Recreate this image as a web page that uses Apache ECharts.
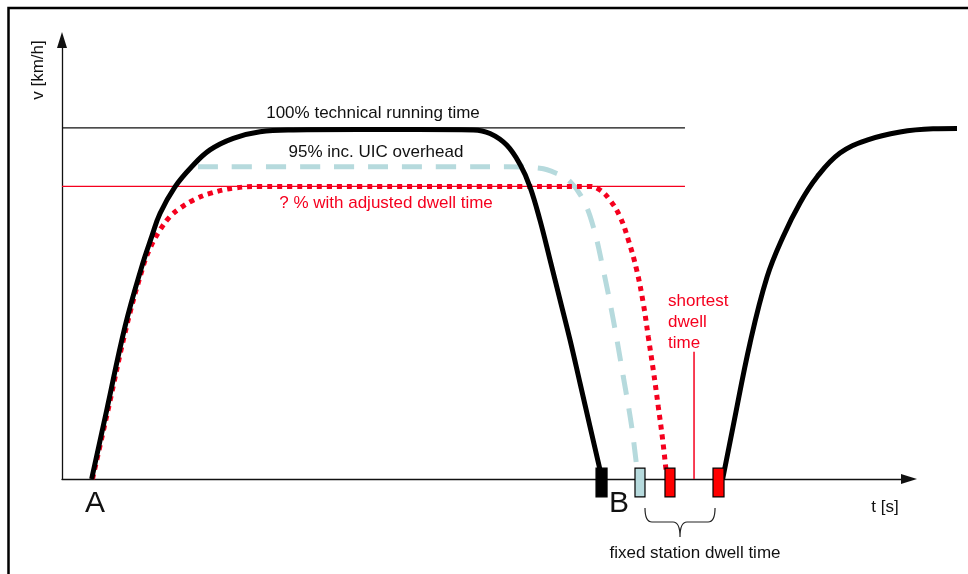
<!DOCTYPE html>
<html>
<head>
<meta charset="utf-8">
<script src="https://cdn.jsdelivr.net/npm/echarts@6/dist/echarts.min.js"></script>
<style>html,body{margin:0;padding:0;background:#fff}#c{width:968px;height:574px}</style>
</head>
<body>
<div id="c"></div>
<script>
// time [arbitrary units], speed [% of line speed]
const technicalRun = [[3.5,0],[5.28,19.6],[7.44,43.4],[9.41,60.4],[10.59,69.0],[11.57,75.6],[13.34,83.2],[15.31,88.9],[17.47,93.7],[20.22,97.0],[23.38,98.9],[27.3,99.4],[35,99.5],[42,99.5],[48.56,99.4],[50.53,98.4],[52.5,95.1],[54.07,89.6],[55.25,83.2],[56.43,73.7],[57.62,62.4],[58.8,51.0],[59.98,39.6],[61.16,27.3],[62.34,14.9],[63.52,2.6],[63.75,0]];
const uicRun = [[16.06,88.9],[30,88.9],[45,88.9],[52.5,88.9],[56.43,88.5],[58.41,87.0],[59.98,84.7],[61.55,79.4],[62.73,71.8],[63.91,59.5],[65.09,45.3],[66.27,29.1],[67.26,14.9],[67.85,3.5]];
const adjustedRun = [[3.6,0],[5.43,19.6],[7.62,43.4],[9.56,60.4],[10.39,65.7],[11.57,70.9],[12.75,74.7],[13.93,77.1],[15.5,79.4],[17.47,81.3],[20.22,82.8],[23.38,83.3],[35,83.3],[50,83.3],[62.34,83.3],[63.52,82.3],[64.7,79.4],[65.88,74.7],[66.86,68.1],[67.85,59.5],[68.63,50.0],[69.22,40.5],[69.81,31.0],[70.4,20.6],[70.92,11.1],[71.31,2.6]];
const nextDeparture = [[78.0,0],[79.22,14.8],[81.23,38.7],[83.24,57.5],[85.12,68.9],[87.13,78.6],[89.14,86.0],[91.85,92.8],[95.04,96.5],[98.94,98.8],[102.83,99.7],[105.67,99.8]];
const refLine100 = [[0,100],[73.55,100]];
const refLineAdjusted = [[0,83.3],[73.55,83.3]];
const shortestDwell = [[74.62,0],[74.62,36.2]];
const stopMarks = [[63.05,64.35],[67.65,68.83],[71.19,72.37],[76.86,78.16]];
const stopMarkTop = 3.1, stopMarkBottom = -5.1;
const fixedDwell = [[68.83,77.1]];
const axisRange = {xMax:100, yMax:125};

const stopMarkColors = ['#000000','#b6dadd','#ff0000','#ff0000'];
const RED = '#f5001e', BLUE = '#b6dadd', INK = '#111111';
const FONT = '"Liberation Sans", Arial, Helvetica, sans-serif';

// visible axes end at the arrow; a second (hidden) grid with the same scale extends to the right edge
const G = {left:62, top:40, right:59, bottom:95, width:968};
const plotW = G.width - G.left - G.right;
const wideRight = 5;
const wideMax = axisRange.xMax * (G.width - G.left - wideRight) / plotW;

const chart = echarts.init(document.getElementById('c'));
const hidden = {type:'value', show:false, axisLine:{show:false}, axisTick:{show:false}, axisLabel:{show:false}, splitLine:{show:false}};
const axisCommon = {
  type:'value', axisTick:{show:false}, axisLabel:{show:false}, splitLine:{show:false},
  axisLine:{show:true, onZero:false, symbol:['none','triangle'], symbolSize:[10,16], lineStyle:{color:INK, width:1.3}}
};
function txt(x,y,text,size,color,extra){
  return Object.assign({type:'text', x:x, y:y, silent:true, z:100,
    style:{text:text, fontSize:size, fontFamily:FONT, fill:color,
      align:'center', verticalAlign:'middle', textAlign:'center', textVerticalAlign:'middle'}}, extra||{});
}
const lineBase = {type:'line', xAxisIndex:1, yAxisIndex:1, showSymbol:false, symbol:'none', silent:true, animation:false};
chart.setOption({
  animation:false,
  grid:[
    {left:G.left, top:G.top, right:G.right, bottom:G.bottom, containLabel:false},
    {left:G.left, top:G.top, right:wideRight, bottom:G.bottom, containLabel:false}
  ],
  xAxis:[
    Object.assign({}, axisCommon, {gridIndex:0, min:0, max:axisRange.xMax}),
    Object.assign({}, hidden, {gridIndex:1, min:0, max:wideMax})
  ],
  yAxis:[
    Object.assign({}, axisCommon, {gridIndex:0, min:0, max:axisRange.yMax}),
    Object.assign({}, hidden, {gridIndex:1, min:0, max:axisRange.yMax})
  ],
  series:[
    Object.assign({}, lineBase, {data:refLine100, z:1, lineStyle:{color:INK, width:1.3}}),
    Object.assign({}, lineBase, {data:refLineAdjusted, z:1, lineStyle:{color:RED, width:1.3}}),
    Object.assign({}, lineBase, {data:shortestDwell, z:1, lineStyle:{color:RED, width:1.5}}),
    Object.assign({}, lineBase, {data:uicRun, z:2, smooth:0.4, lineStyle:{color:BLUE, width:5, type:[20,14], cap:'butt'}}),
    Object.assign({}, lineBase, {data:adjustedRun, z:3, smooth:0.4, lineStyle:{color:RED, width:5, type:[5,5], cap:'butt'}}),
    Object.assign({}, lineBase, {data:technicalRun, z:4, smooth:0.4, lineStyle:{color:'#000', width:5}}),
    Object.assign({}, lineBase, {data:nextDeparture, z:4, smooth:0.4, lineStyle:{color:'#000', width:5}}),
    {type:'custom', xAxisIndex:1, yAxisIndex:1, z:6, clip:false, silent:true, data:stopMarks, encode:{x:[0,1]},
      renderItem:function(params, api){
        const p0 = api.coord([api.value(0), stopMarkTop]);
        const p1 = api.coord([api.value(1), stopMarkBottom]);
        return {type:'rect', shape:{x:p0[0], y:p0[1], width:p1[0]-p0[0], height:p1[1]-p0[1]},
          style:{fill:stopMarkColors[params.dataIndex], stroke:'#000', lineWidth:1.2}};
      }},
    {type:'custom', xAxisIndex:1, yAxisIndex:1, z:6, clip:false, silent:true, data:fixedDwell, encode:{x:[0,1]},
      renderItem:function(params, api){
        const a = api.coord([api.value(0), 0]);
        const b = api.coord([api.value(1), 0]);
        const L = a[0], R = b[0], C = (L+R)/2;
        const top = a[1]+29, mid = a[1]+43, bot = a[1]+58;
        const d = 'M'+L+','+top+' Q'+L+','+mid+' '+(L+7)+','+mid+' L'+(C-7)+','+mid+
          ' Q'+C+','+mid+' '+C+','+bot+' Q'+C+','+mid+' '+(C+7)+','+mid+' L'+(R-7)+','+mid+
          ' Q'+R+','+mid+' '+R+','+top;
        return {type:'path', shape:{pathData:d}, style:{fill:'none', stroke:'#222', lineWidth:1.2}};
      }}
  ],
  graphic:[
    {type:'rect', silent:true, z:0, shape:{x:8.5, y:8, width:1200, height:1200}, style:{fill:'none', stroke:'#000', lineWidth:2.5}},
    txt(373,113,'100% technical running time',17,INK),
    txt(376,152,'95% inc. UIC overhead',17,INK),
    txt(386,203,'? % with adjusted dwell time',17,RED),
    {type:'text', x:668, y:291, silent:true, z:100, style:{text:'shortest\ndwell\ntime', fontSize:17, lineHeight:21, fontFamily:FONT, fill:RED, align:'left', verticalAlign:'top', textAlign:'left', textVerticalAlign:'top'}},
    txt(95,504,'A',30,INK),
    txt(619,504,'B',30,INK),
    txt(885,507,'t [s]',17,INK),
    txt(695,553,'fixed station dwell time',17,INK),
    txt(38,70,'v [km/h]',17,INK,{rotation:Math.PI/2})
  ]
});
</script>
</body>
</html>
